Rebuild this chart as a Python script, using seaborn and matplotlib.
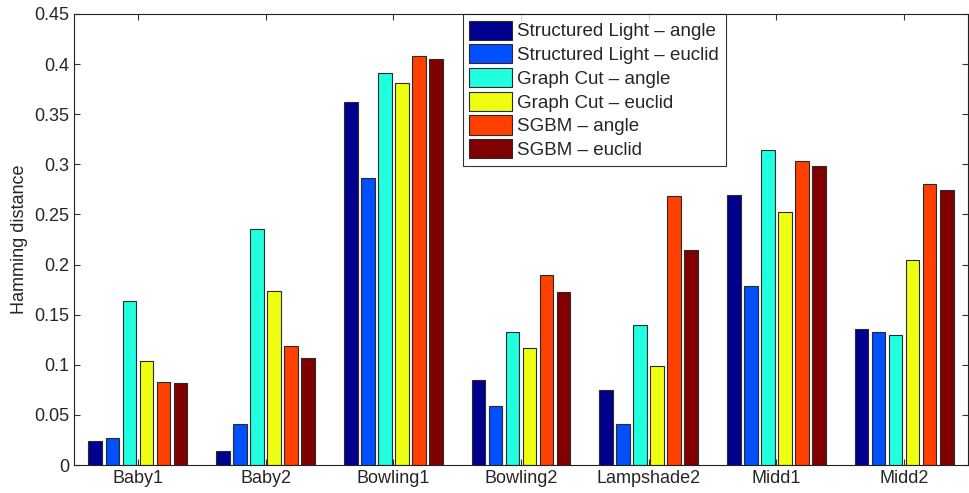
import pandas as pd
import matplotlib
matplotlib.use("Agg")
import matplotlib.pyplot as plt
import seaborn as sns

scenes = ["Baby1", "Baby2", "Bowling1", "Bowling2", "Lampshade2", "Midd1", "Midd2"]
methods = ["Structured Light \u2013 angle", "Structured Light \u2013 euclid",
           "Graph Cut \u2013 angle", "Graph Cut \u2013 euclid",
           "SGBM \u2013 angle", "SGBM \u2013 euclid"]

sl_angle = [0.024, 0.014, 0.362, 0.085, 0.075, 0.269, 0.136]
sl_euclid = [0.027, 0.041, 0.286, 0.059, 0.041, 0.179, 0.133]
gc_angle = [0.164, 0.235, 0.391, 0.133, 0.140, 0.314, 0.130]
gc_euclid = [0.104, 0.174, 0.381, 0.117, 0.099, 0.252, 0.205]
sgbm_angle = [0.083, 0.119, 0.408, 0.190, 0.268, 0.303, 0.280]
sgbm_euclid = [0.082, 0.107, 0.405, 0.173, 0.215, 0.298, 0.274]

colors = ["#00008f", "#0050ff", "#20ffdf", "#efff10", "#ff4000", "#800000"]

series = [sl_angle, sl_euclid, gc_angle, gc_euclid, sgbm_angle, sgbm_euclid]
rows = []
for m, vals in zip(methods, series):
    for s, v in zip(scenes, vals):
        rows.append({"Scene": s, "Method": m, "Hamming distance": v})
dados = pd.DataFrame(rows)

sns.set_style("white")
plt.rcParams["font.family"] = ["Liberation Sans", "DejaVu Sans"]

fig = plt.figure(figsize=(9.69, 4.93), dpi=100)
ax = fig.add_axes([74 / 969, 28 / 493, 894 / 969, 451 / 493])

sns.barplot(data=dados, x="Scene", y="Hamming distance", hue="Method",
            hue_order=methods, palette=colors, saturation=1, width=0.8, gap=0.2,
            edgecolor="#2a2a2a", linewidth=0.8, ax=ax)

ax.set_ylim(0, 0.45)
ax.set_xlim(-0.5, 6.5)
ax.set_yticks([i * 0.05 for i in range(10)])
ax.set_yticklabels(["0", "0.05", "0.1", "0.15", "0.2", "0.25", "0.3", "0.35", "0.4", "0.45"])
ax.set_xlabel("")
ax.set_ylabel("Hamming distance", fontsize=13, labelpad=4)
ax.tick_params(axis="both", direction="in", length=4, labelsize=13,
               top=True, right=True, bottom=True, left=True, color="#333333")
for sp in ax.spines.values():
    sp.set_visible(True)
    sp.set_color("#222222")
    sp.set_linewidth(0.8)

leg = ax.legend(loc="upper left", bbox_to_anchor=(0.435, 1.0), borderaxespad=0,
                fontsize=13.5, frameon=True, fancybox=False, edgecolor="black",
                handlelength=2.25, handleheight=1.2, labelspacing=0.2,
                borderpad=0.35, handletextpad=0.3)
leg.get_frame().set_linewidth(0.8)

fig.savefig("out.png", dpi=100)
